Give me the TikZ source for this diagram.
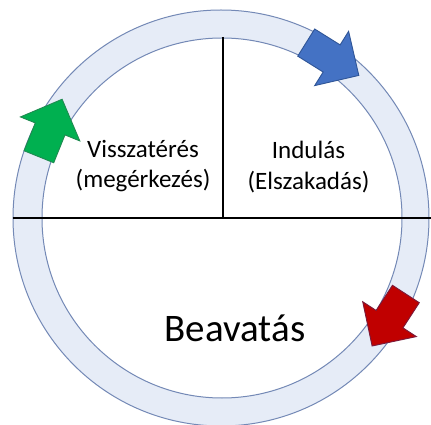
\documentclass[tikz,border=0pt]{standalone}
\usepackage{fontspec}
\setmainfont{Carlito}
\definecolor{ringfill}{HTML}{E6ECF7}
\definecolor{ringline}{HTML}{7489B6}
\definecolor{arrblue}{HTML}{4472C4}
\definecolor{arrblueline}{HTML}{2F5597}
\definecolor{arrgreen}{HTML}{00B050}
\definecolor{arrgreenline}{HTML}{1F8A50}
\definecolor{arrred}{HTML}{C00000}
\definecolor{arrredline}{HTML}{7A1A3A}
\tikzset{
  ringstyle/.style={fill=ringfill, draw=ringline, line width=1pt, even odd rule},
  divider/.style={line width=2.3pt, black},
  smalltext/.style={font=\fontsize{25}{30}\selectfont, anchor=base, inner sep=0pt},
  bigtext/.style={font=\fontsize{39}{46}\selectfont, anchor=base, inner sep=0pt},
  fatarrow/.style={line width=0.9pt, line join=miter}
}
\newcommand{\fatarrowshape}[5]{%
  \begin{scope}[shift={(#1,#2)}, rotate=#3]
    \draw[fatarrow, fill=#4, draw=#5] (-31,-16) -- (-1,-16) -- (-1,-32) -- (31,0) -- (-1,32) -- (-1,16) -- (-31,16) -- cycle;
  \end{scope}}
\begin{document}
\begin{tikzpicture}[x=1pt,y=1pt]
  \useasboundingbox (-222,-207) rectangle (209,218);
  \fill[white] (-222,-207) rectangle (209,218);
  % ring
  \path[ringstyle] (-1,0) circle (208) (0,0) circle (180);
  % dividers
  \coordinate (hl) at (-209,0);
  \coordinate (hr) at (209,0);
  \coordinate (vt) at (1,181);
  \coordinate (vb) at (1,0);
  \draw[divider] (hl) -- (hr);
  \draw[divider] (vt) -- (vb);
  % arrows
  \fatarrowshape{110.5}{159}{-32}{arrblue}{arrblueline}
  \fatarrowshape{-171.5}{90}{68}{arrgreen}{arrgreenline}
  \fatarrowshape{167}{-102}{237}{arrred}{arrredline}
  % texts
  \node[smalltext] (v1) at (-79,60) {Visszatérés};
  \node[smalltext] (v2) at (-79,30) {(megérkezés)};
  \node[smalltext] (i1) at (86.5,59) {Indulás};
  \node[smalltext] (i2) at (86.5,28) {(Elszakadás)};
  \node[bigtext] (b) at (13,-124) {Beavatás};
\end{tikzpicture}
\end{document}
